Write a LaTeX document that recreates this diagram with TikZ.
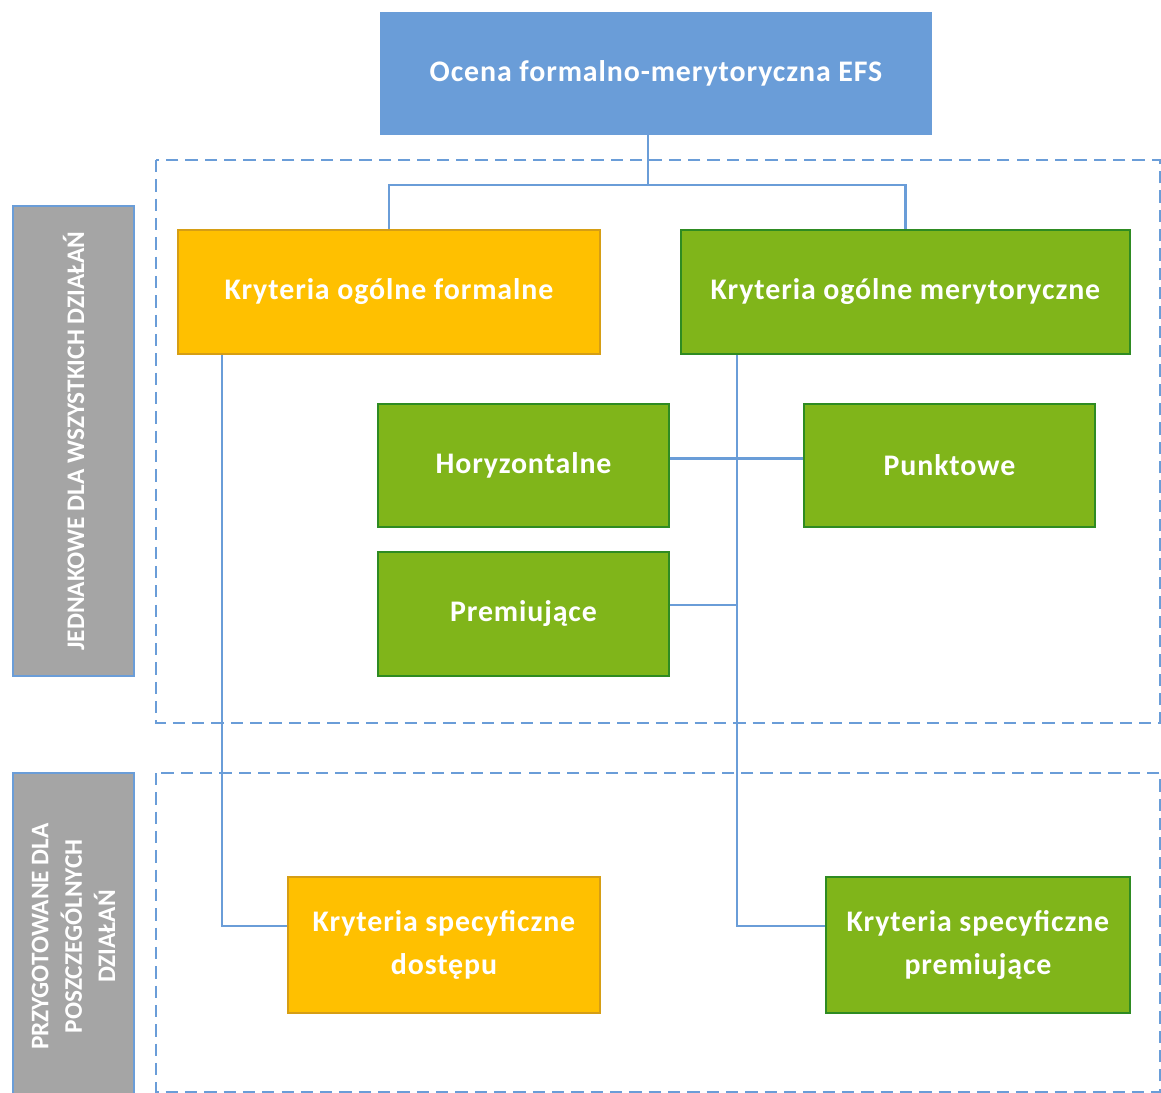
\documentclass[tikz,border=0pt]{standalone}
\usepackage{fontspec}
\setmainfont{Carlito}
\usetikzlibrary{positioning}

\definecolor{efsblue}{RGB}{106,157,216}
\definecolor{efsorange}{RGB}{255,192,0}
\definecolor{efsorangeline}{RGB}{214,158,20}
\definecolor{efsgreen}{RGB}{128,181,26}
\definecolor{efsgreenline}{RGB}{46,139,34}
\definecolor{efsgray}{RGB}{165,165,165}

\tikzset{
	box/.style = {rectangle, text = white, font = \bfseries\fontsize{17}{24}\selectfont\addfontfeatures{LetterSpace=3}, align = center, inner sep = 0pt},
	topbox/.style = {box, fill = efsblue},
	orangebox/.style = {box, fill = efsorange, draw = efsorangeline, line width = 1.1pt},
	greenbox/.style = {box, fill = efsgreen, draw = efsgreenline, line width = 1.3pt},
	sidebox/.style = {rectangle, fill = efsgray, draw = efsblue, line width = 1.3pt, inner sep = 0pt},
	sidetext/.style = {text = white, align = center, rotate = 90, font = \bfseries\fontsize{14.4}{19}\selectfont},
	link/.style = {draw = efsblue, line width = 1.5pt},
	dashbox/.style = {draw = efsblue, line width = 1.5pt, dash pattern = on 7pt off 4pt}
}

\begin{document}
\begin{tikzpicture}[x = 0.02cm, y = -0.02cm]
	\useasboundingbox (0,0) rectangle (1161,1093);

	% Frames
	\draw[dashbox] (156,160) rectangle (1160,723);
	\draw[dashbox] (156,773) rectangle (1160,1092);

	% Nodes
	\node[topbox, minimum width = 11.04cm, minimum height = 2.46cm] (top) at (656,73.5) {Ocena formalno-merytoryczna EFS};
	\node[orangebox, minimum width = 8.44cm, minimum height = 2.48cm] (formal) at (389,292) {Kryteria ogólne formalne};
	\node[greenbox, minimum width = 8.98cm, minimum height = 2.48cm] (meryt) at (905.5,292) {Kryteria ogólne merytoryczne};
	\node[greenbox, minimum width = 5.82cm, minimum height = 2.46cm] (horyz) at (523.5,465.5) {Horyzontalne};
	\node[greenbox, minimum width = 5.82cm, minimum height = 2.46cm] (punkt) at (949.5,465.5) {Punktowe};
	\node[greenbox, minimum width = 5.82cm, minimum height = 2.48cm] (prem) at (523.5,614) {Premiujące};
	\node[orangebox, minimum width = 6.24cm, minimum height = 2.72cm] (dost) at (444,945) {Kryteria specyficzne\\dostępu};
	\node[greenbox, minimum width = 6.08cm, minimum height = 2.72cm] (sprem) at (978,945) {Kryteria specyficzne\\premiujące};

	\node[sidebox, minimum width = 2.42cm, minimum height = 9.4cm] (all) at (73.5,441) {};
	\node[sidetext] (alltext) at (all.center) {JEDNAKOWE DLA WSZYSTKICH DZIAŁAŃ};
	\node[sidebox, minimum width = 2.42cm, minimum height = 6.54cm] (each) at (73.5,936.5) {};
	\node[sidetext] (eachtext) at (each.center) {PRZYGOTOWANE DLA\\POSZCZEGÓLNYCH\\DZIAŁAŃ};

	% Connectors
	\coordinate (hub) at (648,185);
	\draw[link] (hub |- top.south) -- (hub);
	\draw[link] (formal.north) |- (hub) -| (meryt.north);
	\draw[link] (formal.south west) ++(45,0) |- ([yshift = 0.38cm]dost.west);
	\path (meryt.south west) ++(57,0) coordinate (mv);
	\draw[link] (mv) |- ([yshift = 0.38cm]sprem.west);
	\draw[link] ([yshift = 0.14cm]horyz.east) -- ([yshift = 0.14cm]punkt.west);
	\draw[link] ([yshift = 0.18cm]prem.east) -- ([yshift = 0.18cm]prem.east -| mv);
\end{tikzpicture}
\end{document}
